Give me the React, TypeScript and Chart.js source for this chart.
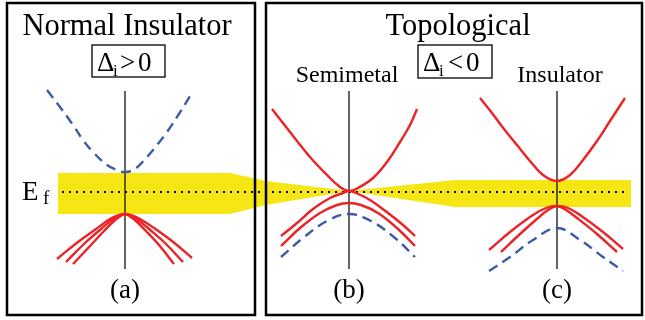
import React, { useEffect, useRef } from "react";
import { Chart, registerables } from "chart.js";
Chart.register(...registerables);

// ---- data (x: horizontal position, y: energy depth, downward) ----
// Fermi-level band (yellow)
const BAND_X = [58, 230, 266, 349, 455, 631];
const BAND_UPPER = [173, 173, 181, 191, 180, 180];
const BAND_LOWER = [214, 214, 205, 191, 207, 207];
const FERMI_X = [62, 629];
const FERMI_Y = [192, 192];

// panel (a) normal insulator
const A_BLUE_X = [47, 60, 73, 83, 93, 107, 117, 125, 135, 147, 157, 167, 177, 192];
const A_BLUE_Y = [90, 107, 125, 140, 152, 165, 170, 172, 169, 157, 145, 132, 117, 93];
const A_RED1_X = [57, 78, 96, 110, 118, 125, 132, 140, 154, 172, 192];
const A_RED1_Y = [259, 242, 229, 219, 215.5, 214, 215.5, 219, 228, 241, 258];
const A_RED2_X = [66, 85, 101, 112, 119, 125, 131, 138, 149, 165, 183];
const A_RED2_Y = [262, 243, 229, 220, 216, 214, 216, 220, 229, 243, 262];
const A_RED3_X = [73, 91, 105, 114, 120, 125, 130, 136, 145, 159, 174];
const A_RED3_Y = [264, 245, 230, 221, 216.5, 214, 216.5, 221, 230, 245, 264];

// panel (b) topological semimetal
const B_UP_X = [272, 290, 310, 327, 340, 349, 358, 373, 387, 400, 410, 417];
const B_UP_Y = [109, 132, 157, 175, 187, 191, 188, 178, 162, 142, 125, 109];
const B_LO1_X = [281, 297, 313, 330, 343, 349, 356, 370, 388, 403, 415];
const B_LO1_Y = [236, 223, 209, 198, 193, 191, 193, 200, 213, 225, 236];
const B_LO2_X = [281, 300, 320, 337, 349, 361, 378, 398, 415];
const B_LO2_Y = [246, 228, 213, 205, 203, 205, 213, 229, 246];
const B_BLUE_X = [281, 303, 327, 349, 371, 395, 415];
const B_BLUE_Y = [257, 238, 221, 214, 221, 238, 257];

// panel (c) topological insulator
const C_UP_X = [480, 492, 504, 517, 530, 543, 557, 570, 583, 597, 610, 625];
const C_UP_Y = [98, 113, 129, 145, 161, 175, 181, 175, 160, 141, 121, 98];
const C_LO1_X = [489, 510, 533, 546, 557, 568, 580, 603, 623];
const C_LO1_Y = [250, 232, 215, 208, 206, 208, 215, 232, 249];
const C_LO2_X = [501, 520, 538, 548, 557, 566, 577, 597, 617];
const C_LO2_Y = [252, 234, 218, 210, 206, 210, 218, 234, 252];
const C_BLUE_X = [489, 510, 533, 557, 580, 603, 623];
const C_BLUE_Y = [271, 257, 240, 228, 240, 257, 271];

// k = 0 axes
const AXIS_X = [125, 349, 557];
const AXIS_Y = [91, 269];

// texts
const TITLES = ["Normal Insulator", "Topological"];
const SUBTITLES = ["Semimetal", "Insulator"];
const PANEL_LABELS = ["(a)", "(b)", "(c)"];
const FERMI_LABEL = ["E", "f"];
const GAP_LABELS = [
  ["Δ", "i", ">", "0"],
  ["Δ", "i", "<", "0"],
];

const RED = "#ec2226";
const BLUE = "#3b5ba9";
const YELLOW = "#f5e614";
const SERIF = '"Liberation Serif"';

type P = { x: number; y: number };
const pts = (xs: number[], ys: number[]): P[] => xs.map((x, i) => ({ x, y: ys[i] }));

function curve(xs: number[], ys: number[], color: string, dashed = false) {
  return {
    data: pts(xs, ys),
    showLine: true,
    borderColor: color,
    borderWidth: 2.4,
    borderDash: dashed ? [10, 6] : [],
    tension: 0.4,
    pointRadius: 0,
    fill: false,
    order: 1,
  };
}

const textPlugin = {
  id: "diagramText",
  afterDraw(chart: any) {
    const { ctx, scales } = chart;
    const X = (v: number) => scales.x.getPixelForValue(v);
    const Y = (v: number) => scales.y.getPixelForValue(v);
    ctx.save();
    // panel frames
    ctx.strokeStyle = "#000";
    ctx.lineWidth = 2.5;
    ctx.strokeRect(X(7), Y(3), X(255) - X(7), Y(315) - Y(3));
    ctx.strokeRect(X(266), Y(3), X(642) - X(266), Y(315) - Y(3));
    // gap boxes
    ctx.lineWidth = 1.3;
    ctx.strokeRect(X(92), Y(45), X(165) - X(92), Y(77) - Y(45));
    ctx.strokeRect(X(418), Y(45), X(492) - X(418), Y(78) - Y(45));

    ctx.fillStyle = "#000";
    ctx.textBaseline = "alphabetic";
    ctx.textAlign = "center";
    ctx.font = `30.5px ${SERIF}`;
    ctx.fillText(TITLES[0], X(127), Y(35));
    ctx.fillText(TITLES[1], X(458), Y(35));
    ctx.font = `24px ${SERIF}`;
    ctx.fillText(SUBTITLES[0], X(347), Y(82));
    ctx.fillText(SUBTITLES[1], X(560), Y(82));
    ctx.font = `27px ${SERIF}`;
    PANEL_LABELS.forEach((t, i) => ctx.fillText(t, X(AXIS_X[i]), Y(298)));

    ctx.textAlign = "left";
    ctx.font = `27px ${SERIF}`;
    ctx.fillText(FERMI_LABEL[0], X(22), Y(200));
    ctx.font = `19px ${SERIF}`;
    ctx.fillText(FERMI_LABEL[1], X(43), Y(204));

    const gapX = [
      [97, 113, 120, 138],
      [423, 439, 448, 466],
    ];
    GAP_LABELS.forEach((parts, g) => {
      ctx.font = `27px ${SERIF}`;
      ctx.fillText(parts[0], X(gapX[g][0]), Y(71));
      ctx.font = `17px ${SERIF}`;
      ctx.fillText(parts[1], X(gapX[g][1]), Y(76));
      ctx.font = `27px ${SERIF}`;
      ctx.fillText(parts[2], X(gapX[g][2]), Y(71));
      ctx.fillText(parts[3], X(gapX[g][3]), Y(71));
    });
    ctx.restore();
  },
};

export default function App() {
  const ref = useRef<HTMLCanvasElement>(null);
  useEffect(() => {
    if (!ref.current) return;
    const datasets: any[] = [
      curve(A_BLUE_X, A_BLUE_Y, BLUE, true),
      curve(A_RED1_X, A_RED1_Y, RED),
      curve(A_RED2_X, A_RED2_Y, RED),
      curve(A_RED3_X, A_RED3_Y, RED),
      curve(B_UP_X, B_UP_Y, RED),
      curve(B_LO1_X, B_LO1_Y, RED),
      curve(B_LO2_X, B_LO2_Y, RED),
      curve(B_BLUE_X, B_BLUE_Y, BLUE, true),
      curve(C_UP_X, C_UP_Y, RED),
      curve(C_LO1_X, C_LO1_Y, RED),
      curve(C_LO2_X, C_LO2_Y, RED),
      curve(C_BLUE_X, C_BLUE_Y, BLUE, true),
      ...AXIS_X.map((ax) => ({
        data: pts([ax, ax], AXIS_Y),
        showLine: true,
        borderColor: "#000",
        borderWidth: 1.2,
        pointRadius: 0,
        fill: false,
        order: 5,
      })),
      {
        data: pts(FERMI_X, FERMI_Y),
        showLine: true,
        borderColor: "#000",
        borderWidth: 2,
        borderDash: [2, 5],
        pointRadius: 0,
        fill: false,
        order: 8,
      },
      {
        data: pts(BAND_X, BAND_UPPER),
        showLine: true,
        borderWidth: 0,
        borderColor: "rgba(0,0,0,0)",
        backgroundColor: YELLOW,
        pointRadius: 0,
        tension: 0,
        fill: "+1",
        order: 10,
      },
      {
        data: pts(BAND_X, BAND_LOWER),
        showLine: true,
        borderWidth: 0,
        borderColor: "rgba(0,0,0,0)",
        backgroundColor: YELLOW,
        pointRadius: 0,
        tension: 0,
        fill: false,
        order: 11,
      },
    ];
    const chart = new Chart(ref.current, {
      type: "scatter",
      data: { datasets },
      options: {
        animation: false,
        responsive: false,
        events: [],
        layout: { padding: 0 },
        plugins: { legend: { display: false }, tooltip: { enabled: false } },
        scales: {
          x: { type: "linear", min: 0, max: 645, display: false },
          y: { type: "linear", min: 0, max: 320, reverse: true, display: false },
        },
      },
      plugins: [textPlugin],
    } as any);
    return () => chart.destroy();
  }, []);
  return (
    <div style={{ position: "absolute", left: 0, top: 0, width: 645, height: 320, background: "#fff" }}>
      <canvas ref={ref} width={645} height={320} style={{ display: "block" }} />
    </div>
  );
}
